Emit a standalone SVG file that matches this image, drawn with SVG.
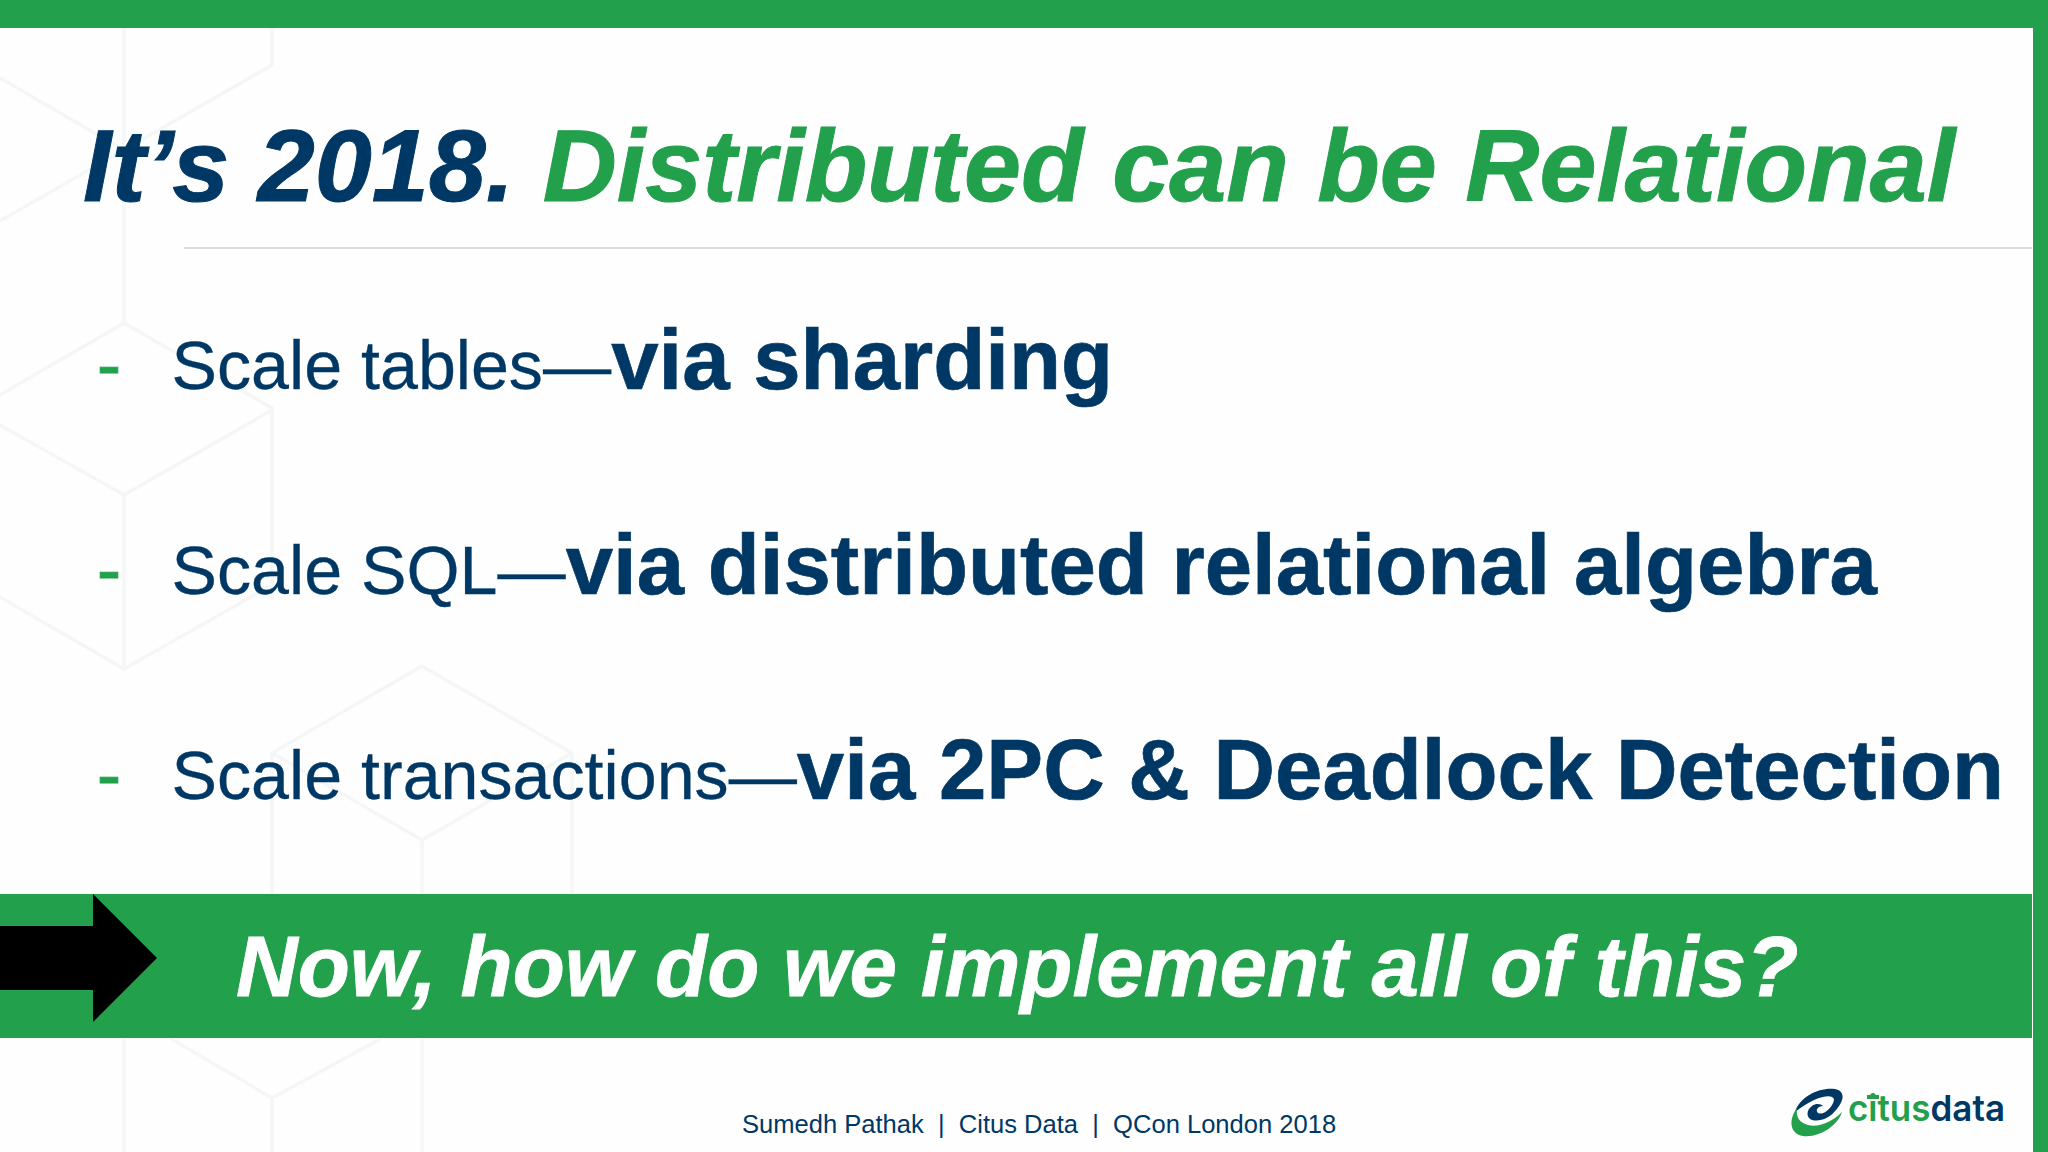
<svg xmlns="http://www.w3.org/2000/svg" width="2048" height="1152" viewBox="0 0 2048 1152">
<style>
text{font-family:"Liberation Sans",Arial,sans-serif}
.hex{fill:none;stroke:#f4f7f5;stroke-width:3.5}
.g{fill:#22a04b}
.n{fill:#003865}
.r{font-size:68.2px;stroke:#003865;stroke-width:.3px}
.b{font-size:85.2px;font-weight:700;stroke:#003865;stroke-width:.7px}
.d{font-size:72px;fill:#22a04b;stroke:#22a04b;stroke-width:1px}
.t{font-size:102.5px;font-weight:700;font-style:italic;stroke-width:1px}
</style>
<rect width="2048" height="1152" fill="#fefefe"/>
<g id="background-hexagons">
<path class="hex" d="M124 28V323M272 28V65L124 150L0 78M124 150L0 221M124 323L0 395M124 323L272 408V600M0 425L124 495L272 410M124 495V669M0 597L124 669L272 585M422 666L272 753V894M422 666L572 753V894M272 753L422 840L572 753M422 840V894M124 1038V1152M170 1038L272 1098L382 1038M272 1098V1152M422 1038V1152"/>
</g>
<g id="frame">
<rect class="g" width="2048" height="28"/>
<rect class="g" x="2033" width="15" height="1152"/>
</g>
<g id="title">
<text x="83" y="201" class="t n" stroke="#003865">It’s 2018. <tspan class="g" stroke="#22a04b">Distributed can be Relational</tspan></text>
<rect x="184" y="247" width="1848" height="2" fill="#dcdcdc"/>
</g>
<g id="bullet-1">
<text x="97" y="389" class="d">-</text>
<text x="171.5" y="389" class="r n">Scale tables—<tspan class="b">via sharding</tspan></text>
</g>
<g id="bullet-2">
<text x="97" y="594" class="d">-</text>
<text x="171.5" y="594" class="r n">Scale SQL—<tspan class="b">via distributed relational algebra</tspan></text>
</g>
<g id="bullet-3">
<text x="97" y="799" class="d">-</text>
<text x="171.5" y="799" class="r n">Scale transactions—<tspan class="b">via 2PC &amp; Deadlock Detection</tspan></text>
</g>
<g id="banner">
<rect class="g" y="894" width="2032" height="144"/>
<path d="M0 926H93V894L157 958L93 1022V990H0Z" fill="#000"/>
<text x="236" y="996" font-size="85.4" font-weight="700" font-style="italic" fill="#fff" stroke="#fff" stroke-width=".8">Now, how do we implement all of this?</text>
</g>
<g id="footer">
<text x="742" y="1133" font-size="25.55" class="n" xml:space="preserve">Sumedh Pathak  |  Citus Data  |  QCon London 2018</text>
</g>
<g id="logo">
<path class="n" d="M1795 1112C1800 1096 1820 1087 1835 1089C1845 1091 1845 1100 1836 1110C1830 1118 1820 1122 1812 1120C1806 1118 1806 1110 1812 1106C1816 1103 1821 1104 1823 1106C1818 1106 1815 1110 1818 1113C1824 1116 1834 1106 1834 1099C1832 1093 1815 1096 1795 1112Z"/>
<path class="g" d="M1797 1108C1788 1120 1790 1134 1803 1136C1820 1138 1838 1125 1842 1112C1832 1122 1818 1128 1808 1125C1798 1122 1796 1116 1797 1108Z"/>
<text x="1848" y="1121" style="font-family:Inter,'Liberation Sans',sans-serif" font-size="36" font-weight="600" textLength="157" lengthAdjust="spacingAndGlyphs"><tspan class="g">citus</tspan><tspan class="n">data</tspan></text>
<rect class="g" x="1867" y="1095" width="12" height="4"/>
</g>
</svg>
